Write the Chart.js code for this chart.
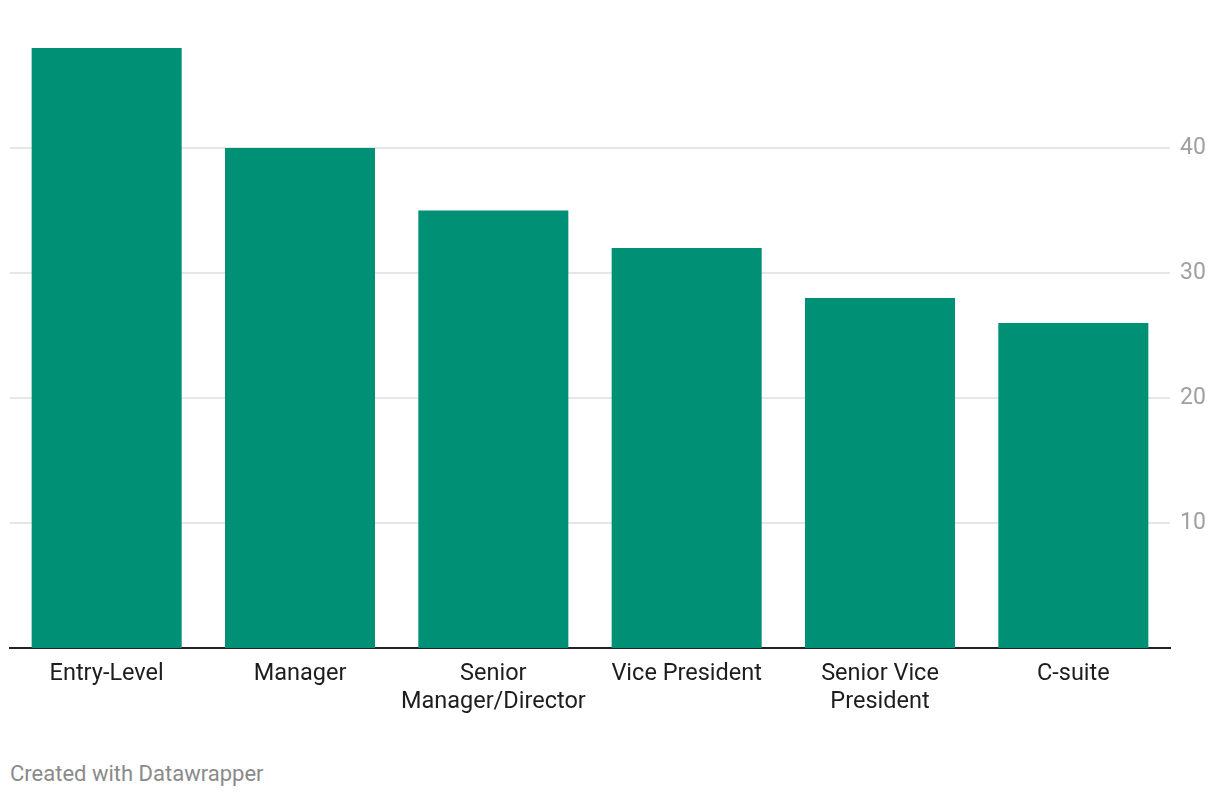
<!DOCTYPE html>
<html lang="en">
<head>
    <meta charset="UTF-8">
    <title>Bar chart</title>
    <script src="https://cdn.jsdelivr.net/npm/chart.js"></script>
    <style>
        body {
            margin: 0;
            padding: 0;
            background: #ffffff;
            font-family: Roboto, sans-serif;
        }
        #wrap {
            position: relative;
            width: 1220px;
            height: 728px;
        }
        #footer {
            position: absolute;
            left: 10px;
            top: 761px;
            font-size: 22px;
            color: #8a8a8a;
        }
    </style>
</head>
<body>
    <div id="wrap">
        <canvas id="chart"></canvas>
    </div>
    <div id="footer">Created with Datawrapper</div>

    <script>
        const categories = ['Entry-Level', 'Manager', ['Senior', 'Manager/Director'], 'Vice President', ['Senior Vice', 'President'], 'C-suite'];
        const values = [48, 40, 35, 32, 28, 26];
        const yTicks = [10, 20, 30, 40];

        const ctx = document.getElementById('chart').getContext('2d');

        new Chart(ctx, {
            type: 'bar',
            data: {
                labels: categories,
                datasets: [{
                    data: values,
                    backgroundColor: '#009076',
                    borderWidth: 0,
                    barPercentage: 0.776,
                    categoryPercentage: 1.0,
                }],
            },
            options: {
                responsive: true,
                maintainAspectRatio: false,
                animation: false,
                layout: {
                    padding: { top: 48, left: 10, right: 0, bottom: 0 },
                },
                plugins: {
                    legend: { display: false },
                    tooltip: { enabled: false },
                },
                scales: {
                    x: {
                        afterFit: (scale) => {
                            scale.height = 80;
                        },
                        grid: { display: false, drawTicks: false },
                        border: { color: '#222222', width: 2 },
                        ticks: {
                            color: '#1d1d1d',
                            font: { family: 'Roboto', size: 23.5, lineHeight: 1.2 },
                            padding: 12,
                            maxRotation: 0,
                            autoSkip: false,
                        },
                    },
                    y: {
                        position: 'right',
                        min: 0,
                        max: 48,
                        afterBuildTicks: (scale) => {
                            scale.ticks = yTicks.map(v => ({ value: v }));
                        },
                        afterFit: (scale) => {
                            scale.width = 50;
                        },
                        grid: { color: '#e6e6e6', lineWidth: 2, drawTicks: false },
                        border: { display: false },
                        ticks: {
                            color: '#a0a0a0',
                            font: { family: 'Roboto', size: 23 },
                            padding: 10,
                        },
                    },
                },
            },
        });
    </script>
</body>
</html>
